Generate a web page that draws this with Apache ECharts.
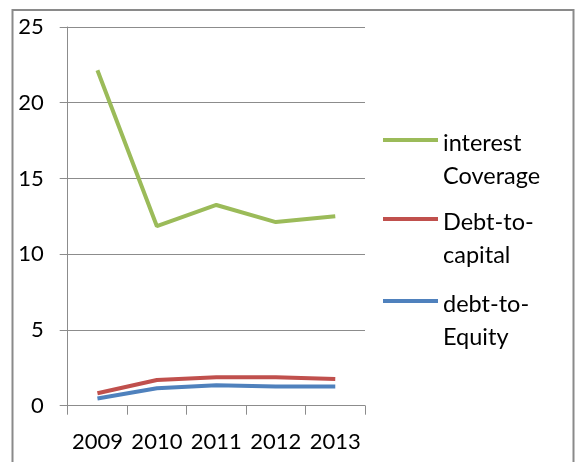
<!DOCTYPE html>
<html>
<head>
<meta charset="utf-8">
<script src="https://cdn.jsdelivr.net/npm/echarts@6/dist/echarts.min.js"></script>
<style>html,body{margin:0;padding:0;background:#fff;}#c{width:575px;height:462px;}</style>
</head>
<body>
<div id="c"></div>
<script>
var categories = ['2009', '2010', '2011', '2012', '2013'];
var interestCoverage = [22.15, 11.85, 13.25, 12.12, 12.5];
var debtToCapital = [0.82, 1.7, 1.88, 1.88, 1.76];
var debtToEquity = [0.48, 1.15, 1.35, 1.26, 1.26];
var seriesNames = ['interest\nCoverage', 'Debt-to-\ncapital', 'debt-to-\nEquity'];
var colors = ['#9BBB59', '#C0504D', '#4F81BD'];
var yTicks = [0, 5, 10, 15, 20, 25];

var chart = echarts.init(document.getElementById('c'), null, {renderer: 'canvas'});
var font = 'Lato';
var legendTops = [102, 181, 263];
function mkLegend(i) {
  return {
    data: [seriesNames[i]],
    left: 383, top: legendTops[i], padding: 0,
    icon: 'rect', itemWidth: 55, itemHeight: 4, itemGap: 0,
    formatter: function (name) {
      return '{p| }\n' + name.split('\n').map(function (s) { return '{a|' + s + '}'; }).join('\n');
    },
    textStyle: {
      fontFamily: font, fontSize: 23, color: '#000',
      rich: {
        p: {fontSize: 10, lineHeight: 39},
        a: {fontFamily: font, fontSize: 23.5, color: '#000', lineHeight: 33}
      }
    }
  };
}
var datas = [interestCoverage, debtToCapital, debtToEquity];
chart.setOption({
  animation: false,
  backgroundColor: '#fff',
  graphic: [{type: 'rect', shape: {x: 12.5, y: 10, width: 561, height: 480}, style: {fill: 'none', stroke: '#8a8a8a', lineWidth: 2}, silent: true}],
  grid: {left: 67.7, right: 210, top: 27, bottom: 56.3},
  legend: [mkLegend(0), mkLegend(1), mkLegend(2)],
  xAxis: {
    type: 'category', data: categories, boundaryGap: true,
    axisLine: {show: true, lineStyle: {color: '#8c8c8c', width: 1}},
    axisTick: {show: true, length: 9, interval: 0, lineStyle: {color: '#8c8c8c'}},
    axisLabel: {fontFamily: font, fontSize: 22, color: '#000', margin: 25, interval: 0}
  },
  yAxis: {
    type: 'value', min: yTicks[0], max: yTicks[yTicks.length - 1], interval: 5,
    axisLine: {show: true, lineStyle: {color: '#8c8c8c', width: 1}},
    axisTick: {show: true, length: 8, lineStyle: {color: '#8c8c8c'}},
    axisLabel: {fontFamily: font, fontSize: 22, color: '#000', margin: 24},
    splitLine: {show: true, lineStyle: {color: '#8c8c8c', width: 1}}
  },
  series: datas.map(function (d, i) {
    return {
      name: seriesNames[i], type: 'line', data: d, symbol: 'none',
      lineStyle: {color: colors[i], width: 4},
      itemStyle: {color: colors[i]}
    };
  })
});
</script>
</body>
</html>
